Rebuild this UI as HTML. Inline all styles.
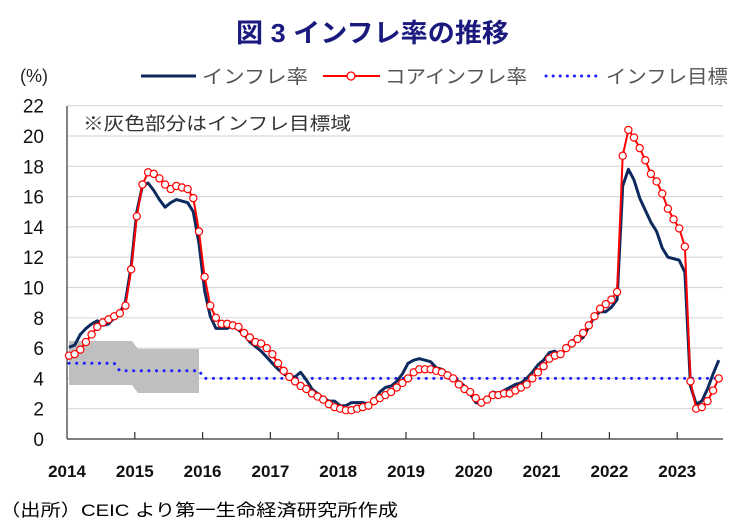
<!DOCTYPE html>
<html><head><meta charset="utf-8"><style>
body{margin:0;background:#fff;}
svg{display:block;font-family:"Liberation Sans","Noto Sans CJK JP",sans-serif;}
</style></head><body>
<svg id="s" width="744" height="527" viewBox="0 0 744 527" xmlns="http://www.w3.org/2000/svg">
<text x="236" y="42" font-size="26" font-weight="bold" fill="#1a1a7e" textLength="273" lengthAdjust="spacingAndGlyphs">図 3  インフレ率の推移</text>
<text x="20" y="82" font-size="18" fill="#222">(%)</text>
<line x1="141" y1="76" x2="196" y2="76" stroke="#0d2a5e" stroke-width="3"/>
<text x="202" y="83" font-size="19" fill="#555" textLength="106" lengthAdjust="spacingAndGlyphs">インフレ率</text>
<line x1="323" y1="76" x2="380" y2="76" stroke="#f00" stroke-width="2"/>
<circle cx="351" cy="76" r="4" fill="#fff" stroke="#f00" stroke-width="1.3"/>
<text x="385" y="83" font-size="19" fill="#555" textLength="142" lengthAdjust="spacingAndGlyphs">コアインフレ率</text>
<line x1="546" y1="76" x2="600" y2="76" stroke="#1f1fff" stroke-width="3" stroke-dasharray="0.1 7" stroke-linecap="round"/>
<text x="606" y="83" font-size="19" fill="#555" textLength="122" lengthAdjust="spacingAndGlyphs">インフレ目標</text>
<g id="grid"></g>
<polygon points="69,341 132,341 138,349 199,349 199,393 138,393 132,385 69,385" fill="#bfbfbf"/>
<text x="83" y="130" font-size="18" fill="#333" textLength="268" lengthAdjust="spacingAndGlyphs">※灰色部分はインフレ目標域</text>
<g id="plot"></g>
<text x="0" y="516" font-size="17" fill="#000" textLength="398" lengthAdjust="spacingAndGlyphs">（出所）CEIC より第一生命経済研究所作成</text>
</svg>
<script>
var ns="http://www.w3.org/2000/svg",g=document.getElementById('grid'),p=document.getElementById('plot');
function el(par,t,a,txt){var e=document.createElementNS(ns,t);for(var k in a)e.setAttribute(k,a[k]);if(txt!=null)e.textContent=txt;par.appendChild(e);return e;}
function Y(v){return 439-v*15.15;}
for(var v=0;v<=22;v+=2){if(v>0)el(g,'line',{x1:67,x2:723,y1:Y(v),y2:Y(v),stroke:'#d9d9d9','stroke-width':1.2});
el(g,'text',{x:44,y:Y(v)+7,'font-size':19,'text-anchor':'end',fill:'#111'},v);}
el(g,'line',{x1:67,x2:67,y1:106,y2:439,stroke:'#333','stroke-width':1.2});
el(g,'line',{x1:67,x2:723,y1:439,y2:439,stroke:'#333','stroke-width':1.2});
for(var i=0;i<10;i++){var x=67+i*67.8;if(i>0)el(g,'line',{x1:x,x2:x,y1:432,y2:439,stroke:'#333','stroke-width':1.2});
el(g,'text',{x:x,y:477,'font-size':17,'font-weight':'bold','text-anchor':'middle',fill:'#111'},2014+i);}
function X(i){return 67+i*5.65+2;}
var h=[6.05,6.2,6.9,7.3,7.6,7.8,7.5,7.6,8.0,8.3,9.1,11.4,15.0,16.7,16.9,16.4,15.8,15.3,15.6,15.8,15.7,15.6,15.0,12.9,9.8,8.1,7.3,7.3,7.3,7.5,7.2,6.9,6.4,6.1,5.8,5.4,5.0,4.6,4.3,4.1,4.1,4.4,3.9,3.3,3.0,2.7,2.5,2.5,2.2,2.2,2.4,2.4,2.4,2.3,2.5,3.1,3.4,3.5,3.8,4.3,5.0,5.2,5.3,5.2,5.1,4.7,4.6,4.3,4.0,3.8,3.5,3.0,2.4,2.3,2.5,3.1,3.0,3.2,3.4,3.6,3.7,4.0,4.4,4.9,5.2,5.7,5.8,5.5,6.0,6.5,6.5,6.7,7.4,8.1,8.4,8.4,8.7,9.2,16.7,17.8,17.1,15.9,15.1,14.3,13.7,12.6,12.0,11.9,11.8,11.0,3.5,2.3,2.5,3.3,4.3,5.2];
var c=[5.5,5.6,5.9,6.4,6.9,7.4,7.7,7.9,8.1,8.3,8.8,11.2,14.7,16.8,17.6,17.5,17.2,16.8,16.5,16.7,16.6,16.5,15.9,13.7,10.7,8.8,8.0,7.6,7.6,7.5,7.4,7.0,6.7,6.4,6.3,6.0,5.6,5.0,4.5,4.1,3.8,3.5,3.3,3.0,2.8,2.6,2.3,2.1,2.0,1.9,1.9,2.0,2.1,2.2,2.5,2.7,2.9,3.1,3.4,3.7,4.0,4.4,4.6,4.6,4.6,4.5,4.4,4.2,4.0,3.6,3.3,3.1,2.7,2.4,2.6,2.9,2.9,3.0,3.0,3.2,3.4,3.6,4.0,4.4,4.8,5.3,5.5,5.6,6.0,6.3,6.6,7.0,7.5,8.1,8.6,8.9,9.2,9.7,18.7,20.4,19.9,19.2,18.4,17.5,17.0,16.2,15.2,14.5,13.9,12.7,3.8,2.0,2.1,2.5,3.2,4.0];
var t=[];for(var i=0;i<116;i++)t.push(i<9?5:(i<24?4.5:4));
function pts(a){return a.map(function(v,i){return X(i).toFixed(1)+','+Y(v).toFixed(1)}).join(' ');}
el(p,'polyline',{points:pts(t),fill:'none',stroke:'#1f1fff','stroke-width':3,'stroke-dasharray':'0.1 7.5','stroke-linecap':'round'});
el(p,'polyline',{points:pts(h),fill:'none',stroke:'#0d2a5e','stroke-width':3,'stroke-linejoin':'round'});
el(p,'polyline',{points:pts(c),fill:'none',stroke:'#f00','stroke-width':2,'stroke-linejoin':'round'});
c.forEach(function(v,i){el(p,'circle',{cx:X(i),cy:Y(v),r:3.6,fill:'#fff',stroke:'#f00','stroke-width':1.2});});
</script>
</body></html>
